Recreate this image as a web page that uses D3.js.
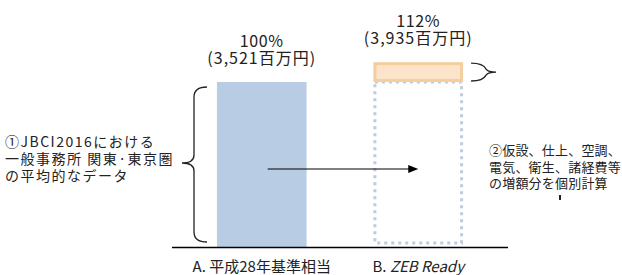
<!DOCTYPE html>
<html><head><meta charset="utf-8">
<script src="https://cdn.jsdelivr.net/npm/d3@7"></script>
<style>
html,body{margin:0;padding:0;background:#fff;}
text{font-family:"Noto Sans CJK JP","Noto Sans",sans-serif;fill:#222;}
</style></head>
<body><svg id="c" width="622" height="275"></svg>
<script>
const categories = ["A", "B"];
const categoryPrefix = ["A. ", "B. "];
const categoryNames = ["平成28年基準相当", "ZEB Ready"];
const percentValues = [100, 112];
const costValues = [3521, 3935];
const baseValue = 100;
const leftNote = ["①JBCI2016における", "一般事務所 関東·東京圏", "の平均的なデータ"];
const rightNote = ["②仮設、仕上、空調、", "電気、衛生、諸経費等", "の増額分を個別計算"];

const svg = d3.select("#c");
const x = d3.scaleBand().domain(categories).range([172, 508]).paddingInner(0.427).paddingOuter(0.287);
const y = d3.scaleLinear().domain([0, 112]).range([247, 247 - 165 * 1.12]);
const bw = x.bandwidth();
const fmt = d3.format(",");

// Bar A
svg.append("rect").attr("x", x("A")).attr("y", y(percentValues[0]))
  .attr("width", bw).attr("height", y(0) - y(percentValues[0])).attr("fill", "#b8cde3");

// Bar B dashed base outline
svg.append("rect").attr("x", x("B") + 1.5).attr("y", y(baseValue))
  .attr("width", bw - 3).attr("height", y(0) - y(baseValue) - 4)
  .attr("fill", "none").attr("stroke", "#bccbdd").attr("stroke-width", 3).attr("stroke-dasharray", "3,4");
// Bar B increment
svg.append("rect").attr("x", x("B") + 1.5).attr("y", y(percentValues[1]) + 1.5)
  .attr("width", bw - 3).attr("height", y(baseValue) - y(percentValues[1]) - 3)
  .attr("fill", "#fce4ca").attr("stroke", "#f6cd9c").attr("stroke-width", 3);

// baseline
svg.append("line").attr("x1", 172).attr("x2", 508).attr("y1", y(0) + 0.5).attr("y2", y(0) + 0.5)
  .attr("stroke", "#000").attr("stroke-width", 1.6);

// value labels (two lines in one text element)
categories.forEach((c, i) => {
  const cx = x(c) + bw / 2;
  const top = y(percentValues[i]);
  const v = svg.append("text").attr("x", cx).attr("y", top - 35).attr("text-anchor", "middle").attr("font-size", 16);
  v.append("tspan").attr("x", cx).attr("letter-spacing", 0.6).text(percentValues[i] + "%");
  v.append("tspan").attr("x", cx).attr("dy", 17).attr("letter-spacing", 1).text("(" + fmt(costValues[i]) + "百万円)");
  const t = svg.append("text").attr("x", cx).attr("y", 272).attr("text-anchor", "middle").attr("font-size", 15);
  t.append("tspan").text(categoryPrefix[i]);
  t.append("tspan").attr("font-style", i === 1 ? "italic" : "normal").text(categoryNames[i]);
});

// arrow
const ay = 169;
svg.append("line").attr("x1", x("A") + bw / 2 + 6).attr("x2", x("B") + bw / 2 - 8)
  .attr("y1", ay).attr("y2", ay).attr("stroke", "#000").attr("stroke-width", 1);
const ax = x("B") + bw / 2;
svg.append("path").attr("d", `M${ax},${ay} L${ax - 10},${ay - 4} L${ax - 10},${ay + 4} Z`).attr("fill", "#000");

// left brace
const bt = y(baseValue) + 5, bb = y(0) - 5, bm = 163, sx = 194;
svg.append("path").attr("fill", "none").attr("stroke", "#222").attr("stroke-width", 1.3)
  .attr("d", `M${sx + 13},${bt} Q${sx},${bt} ${sx},${bt + 10} L${sx},${bm - 8} Q${sx},${bm} ${sx - 12},${bm} Q${sx},${bm} ${sx},${bm + 8} L${sx},${bb - 10} Q${sx},${bb} ${sx + 13},${bb}`);

// right small brace
const rx = x("B") + bw + 8, rt = y(percentValues[1]) + 1, rb = y(baseValue) - 1, rm = (rt + rb) / 2;
svg.append("path").attr("fill", "none").attr("stroke", "#222").attr("stroke-width", 1.3)
  .attr("d", `M${rx},${rt} Q${rx + 12},${rt} ${rx + 15},${rm - 3} Q${rx + 17},${rm} ${rx + 25},${rm} M${rx},${rb} Q${rx + 12},${rb} ${rx + 15},${rm + 3} Q${rx + 17},${rm} ${rx + 25},${rm}`);

// notes
const ln = svg.append("text").attr("x", 5).attr("y", 147).attr("font-size", 14).attr("letter-spacing", 1.5);
leftNote.forEach((s, i) => ln.append("tspan").attr("x", 5).attr("dy", i ? 17 : 0).text(s));
const rn = svg.append("text").attr("x", 489).attr("y", 155).attr("font-size", 13).attr("letter-spacing", 0.2);
rightNote.forEach((s, i) => rn.append("tspan").attr("x", 489).attr("dy", i ? 16.5 : 0).text(s));
svg.append("rect").attr("x", 559).attr("y", 195).attr("width", 2).attr("height", 5).attr("fill", "#222");
</script></body></html>
